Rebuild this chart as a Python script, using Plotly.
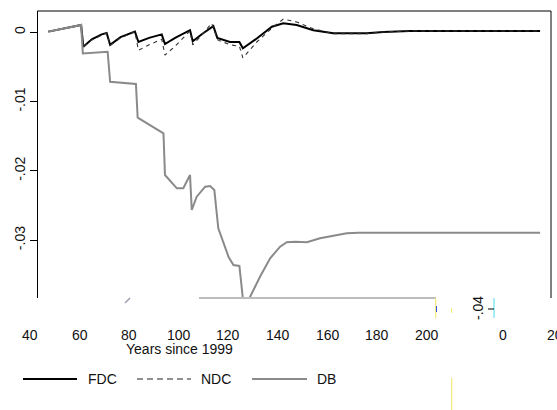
import plotly.graph_objects as go

# ---- data (years since 1999, relative change) ----
fdc_x = [47.4, 60.6, 61.5, 64.9, 68.9, 70.9, 72.3, 76.5, 82.3, 83.7, 88.0, 93.1, 94.4, 98.5, 104.5, 105.6, 109.5, 113.9,
         115.5, 120.6, 124.4, 125.8, 131.4, 137.5, 142.1, 147.5, 154.2, 162.3, 175.7, 182.4, 193.1, 245.6]
fdc_y = [0.0001, 0.00105, -0.0021, -0.0010, -0.0003, -0.0001, -0.0018, -0.0007, 0.0001, -0.0014, -0.0008, -0.0003, -0.0017,
         -0.0008, 0.0003, -0.0013, -0.0002, 0.0009, -0.0008, -0.0014, -0.0014, -0.0023, -0.0009, 0.0008, 0.0013,
         0.00105, 0.0003, -0.00014, -0.00014, 0.00004, 0.0002, 0.0002]

ndc_x = [47.4, 60.6, 61.5, 64.9, 68.9, 70.9, 72.3, 76.5, 82.3, 83.7, 88.0, 93.1, 94.4, 98.5, 104.5, 105.6, 109.5, 113.2,
         115.7, 120.6, 124.4, 125.8, 131.4, 137.5, 142.1, 147.5, 154.2, 162.3, 175.7, 182.4, 193.1, 245.6]
ndc_y = [0.0001, 0.00105, -0.0021, -0.0011, -0.0004, -0.0001, -0.0019, -0.0008, 0.0001, -0.0026, -0.0018, -0.0010, -0.0033,
         -0.0020, 0.0002, -0.0018, -0.0003, 0.0013, -0.0011, -0.0018, -0.0020, -0.0037, -0.0014, 0.0006, 0.0019,
         0.0015, 0.0005, -0.0002, -0.0002, 0.00004, 0.0002, 0.0002]

db_x = [47.4, 60.6, 61.3, 71.3, 72.3, 82.7, 83.4, 93.8, 94.4, 99.2, 101.8, 104.5, 105.2, 107.2, 110.6, 112.6, 114.3,
        115.9, 120.0, 122.0, 124.4, 125.8, 127.1, 128.4, 132.7, 136.8, 140.8, 143.5, 146.9, 151.6, 156.9, 162.3,
        167.7, 172.4, 245.6]
db_y = [0.0001, 0.00105, -0.00306, -0.0028, -0.00713, -0.00746, -0.01232, -0.01457, -0.02059, -0.02251, -0.02251,
        -0.02059, -0.02564, -0.02372, -0.02228, -0.02218, -0.02276, -0.02828, -0.03238, -0.03358, -0.03372, -0.0384,
        -0.0401, -0.0384, -0.03527, -0.03261, -0.03094, -0.0303, -0.03022, -0.0303, -0.02973, -0.02939, -0.029,
        -0.02892, -0.02892]

x_ticks = [40, 60, 80, 100, 120, 140, 160, 180, 200]
y_ticks = [0, -0.01, -0.02, -0.03]
y_tick_text = ["0", "-.01", "-.02", "-.03"]
series_names = ["FDC", "NDC", "DB"]

W, H = 557, 410
ML, MR, MT, MB = 30, 6, 11, 112
PW, PH = W - ML - MR, H - MT - MB


def px(x):
    return (x - ML) / PW


def py(y):
    return (H - MB - y) / PH


FONT = "Liberation Sans, Arial, sans-serif"
TXT = dict(family=FONT, size=14, color="#111")
fig = go.Figure()
fig.add_trace(go.Scatter(x=fdc_x, y=fdc_y, mode="lines", name=series_names[0],
                         line=dict(color="black", width=2)))
fig.add_trace(go.Scatter(x=ndc_x, y=ndc_y, mode="lines", name=series_names[1],
                         line=dict(color="#333333", width=1.1, dash="4px,4px")))
fig.add_trace(go.Scatter(x=db_x, y=db_y, mode="lines", name=series_names[2],
                         line=dict(color="#8a8a8a", width=2)))

yaxis_pos = px(37.3)


def seg(x0, y0, x1, y1, color, width=1, dash=None):
    ln = dict(color=color, width=width)
    if dash:
        ln["dash"] = dash
    return dict(type="line", xref="paper", yref="paper", x0=px(x0), x1=px(x1), y0=py(y0), y1=py(y1), line=ln)


shapes = [
    # frame: top and right
    seg(37.3, 11, 551, 11, "black"),
    seg(551, 11, 551, 298, "black"),
    # partial light bottom line
    seg(199, 298, 436, 298, "#bdbdbd", 2),
    # small glitch marks
    seg(125, 303, 130, 298, "#9a9ab0", 1.5),
    seg(435.7, 298, 435.7, 318, "#f5e663"),
    seg(436.5, 306, 436.5, 312, "#3355dd"),
    seg(451.7, 308, 451.7, 313, "#f5e663"),
    seg(451.7, 378, 451.7, 410, "#f5e663"),
    seg(494, 298, 494, 318, "#44e0e8"),
    seg(488, 309, 494, 309, "black"),
    # legend samples
    seg(23, 379, 77, 379, "black", 2),
    seg(137, 379, 191, 379, "#222222", 1.1, "6px,4px"),
    seg(252, 379, 307, 379, "#8a8a8a", 2),
]


def note(x, y, text, xanchor="center", angle=0, xref="paper"):
    return dict(x=x if xref == "x" else px(x), xref=xref, y=py(y), yref="paper", text=text, showarrow=False,
                xanchor=xanchor, yanchor="middle", textangle=angle, font=TXT)


annotations = [note(t, 335, str(t), xref="x") for t in x_ticks]
annotations += [
    note(503, 335, "0"),
    note(545, 335, "20", xanchor="left"),
    note(478, 308, "-.04", angle=-90),
    note(179, 349, "Years since 1999"),
    note(86, 379, series_names[0], xanchor="left"),
    note(199, 379, series_names[1], xanchor="left"),
    note(315, 379, series_names[2], xanchor="left"),
]

fig.update_layout(
    width=W, height=H,
    margin=dict(l=ML, r=MR, t=MT, b=MB, pad=0),
    paper_bgcolor="white", plot_bgcolor="white",
    showlegend=False,
    font=TXT,
    xaxis=dict(range=[40, 250], showgrid=False, zeroline=False, showline=False, ticks="",
               showticklabels=False),
    yaxis=dict(range=[-0.03834, 0.003074], showgrid=False, zeroline=False, showline=True, linecolor="black",
               linewidth=1, anchor="free", position=yaxis_pos, ticks="outside", ticklen=7, tickcolor="black",
               tickvals=y_ticks, ticktext=y_tick_text, tickangle=-90, tickfont=TXT),
    shapes=shapes,
    annotations=annotations,
)

fig.write_html("out.html")
